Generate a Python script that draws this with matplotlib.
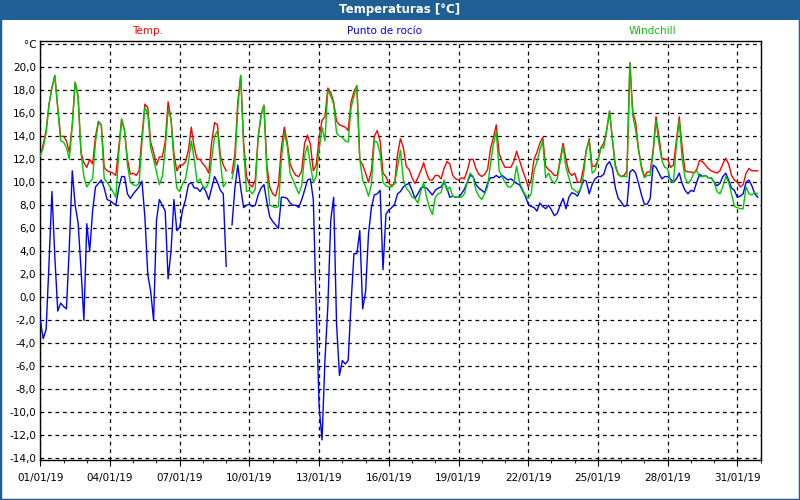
import numpy as np
import pandas as pd
import matplotlib
matplotlib.use('Agg')
import matplotlib.pyplot as plt
import matplotlib.dates as mdates
from matplotlib.patches import Rectangle
from matplotlib.ticker import FixedLocator, FuncFormatter

#-------------------------------------------------------------
# readings every 3h, starting 01/01/19 00:00 (one row per day)
start_str = '2019-01-01 00:00'
step_str  = '3h'
nan = np.nan

temp_lst = [
	12.3, 13.3, 14.5, 16.8, 18.2, 19.3, 16.5, 14.0,
	14.0, 13.6, 12.6, 15.0, 18.7, 17.5, 12.6, 11.7,
	11.3, 12.0, 11.6, 14.0, 15.3, 15.0, 11.3, 11.0,
	10.9, 10.8, 10.6, 13.0, 15.5, 14.5, 12.0, 10.7,
	10.8, 10.6, 11.0, 14.0, 16.8, 16.5, 13.5, 12.6,
	11.5, 12.2, 12.2, 13.5, 17.0, 15.5, 12.5, 11.0,
	11.5, 11.5, 11.8, 12.8, 14.8, 13.0, 12.0, 12.0,
	11.6, 11.3, 10.8, 13.5, 15.2, 15.0, 12.3, 11.5,
	11.0,  nan, 10.8, 12.5, 17.0, 19.3, 13.5, 10.5,
	 9.8,  9.6, 10.2, 13.9, 15.8, 16.7, 11.5,  9.6,
	 9.0,  8.8,  9.8, 13.0, 14.8, 13.5, 11.6, 11.0,
	10.6, 10.5, 11.0, 13.4, 14.1, 13.3, 11.0, 11.5,
	13.9, 15.4, 15.7, 18.2, 17.8, 17.0, 15.3, 15.0,
	14.9, 14.8, 14.5, 17.0, 17.9, 18.4, 12.0, 11.5,
	10.8, 10.0, 11.0, 14.0, 14.5, 13.6, 10.8, 10.5,
	 9.9,  9.7,  9.9, 12.4, 13.8, 13.0, 11.4, 11.1,
	10.4,  9.9, 10.4, 11.0, 11.7, 10.8, 10.2, 10.2,
	10.6, 10.6, 10.3, 11.2, 11.8, 11.6, 10.6, 10.3,
	10.2, 10.4, 10.3, 11.0, 12.0, 12.0, 11.2, 10.7,
	10.5, 10.7, 11.1, 12.9, 13.9, 15.0, 12.5, 11.8,
	11.3, 11.3, 11.3, 11.8, 12.7, 11.9, 11.1, 10.4,
	 9.6, 10.2, 12.0, 12.6, 13.4, 13.9, 11.4, 11.1,
	10.9, 10.6, 10.6, 12.0, 13.4, 12.0, 10.9, 10.6,
	10.8, 10.0, 10.0, 11.2, 12.8, 13.8, 11.4, 11.4,
	11.9, 13.0, 13.4, 14.5, 16.2, 13.7, 11.5, 10.7,
	10.5, 10.6, 11.0, 20.4, 16.1, 15.2, 12.8, 11.4,
	10.5, 10.9, 10.9, 12.8, 15.7, 14.0, 12.1, 12.0,
	12.0, 11.3, 11.5, 13.6, 15.7, 13.0, 11.0, 10.9,
	10.9, 10.8, 11.1, 11.9, 11.8, 11.5, 11.2, 11.0,
	10.9, 10.8, 11.0, 11.6, 12.1, 11.6, 10.6, 10.2,
	10.0,  9.6,  9.8, 10.8, 11.2, 11.0, 11.0, 11.0]

dew_lst = [
	 -2.0, -3.6, -2.8,  3.0,  9.2,  3.5, -1.2, -0.5,
	 -0.8, -1.0,  4.5, 11.0,  8.0,  6.5,  2.5, -2.0,
	  6.4,  4.0,  7.5,  9.6,  9.9, 10.2,  9.5,  8.5,
	  8.4,  8.2,  8.0,  9.5, 10.5, 10.5,  9.0,  8.6,
	  9.0,  9.3,  9.6, 10.1,  7.0,  2.0,  0.5, -2.0,
	  6.7,  8.5,  8.0,  7.5,  1.6,  4.0,  8.5,  5.8,
	  6.1,  7.6,  8.5,  9.8, 10.0,  9.5,  9.5,  9.2,
	  9.6,  9.2,  8.5,  9.5, 10.5, 10.0,  9.3,  9.0,
	  2.7,   nan, 6.3,  9.5, 11.5,  9.5,  7.8,  8.0,
	  8.1,  7.9,  8.0,  8.9,  9.5,  9.8,  8.3,  7.0,
	  6.6,  6.3,  6.0,  8.7,  8.7,  8.6,  8.2,  8.0,
	  8.0,  7.8,  8.5,  9.3, 10.2, 10.3,  8.5, -1.0,
	 -9.5,-12.4, -5.5, -0.8,  6.7,  8.7, -2.3, -6.8,
	 -5.5, -5.8, -5.5, -0.5,  3.8,  3.8,  5.8, -1.0,
	  0.5,  5.5,  7.8,  8.9,  9.0,  9.3,  2.4,  7.2,
	  7.6,  7.8,  8.1,  9.0,  9.2,  9.6,  9.8,  9.9,
	  9.3,  8.6,  9.0,  9.5,  9.6,  9.5,  9.2,  8.9,
	  9.3,  9.5,  9.6, 10.0,  9.5,  8.7,  8.8,  8.7,
	  8.7,  9.0,  9.4, 10.0, 10.6, 10.5,  9.8,  9.5,
	  9.3,  9.1,  9.9, 10.4, 10.4, 10.6, 10.4, 10.6,
	 10.4, 10.2, 10.3, 10.1,  9.9,  9.8,  9.3,  8.8,
	  8.1,  7.9,  7.8,  7.5,  8.2,  7.9,  7.7,  8.0,
	  7.6,  7.1,  7.3,  8.0,  8.6,  7.7,  8.7,  9.1,
	  9.0,  8.8,  9.4, 10.2, 10.1,  9.0,  9.8, 10.3,
	 10.5, 10.5, 10.7, 11.5, 11.8, 11.2,  9.5,  8.6,
	  8.3,  7.9,  8.0, 10.9, 11.1, 10.8,  9.9,  8.9,
	  8.1,  8.1,  8.6, 11.5, 11.3, 10.8, 10.3, 10.5,
	 10.5, 10.3, 10.0, 10.3, 10.8,  9.9,  9.3,  9.0,
	  9.3,  9.2, 10.0, 10.7, 10.5, 10.6, 10.4, 10.4,
	 10.0,  9.7,  9.9, 10.5, 10.8, 10.2,  9.5,  9.3,
	  8.7,  8.8,  9.0, 10.0, 10.2,  9.7,  9.0,  8.7]

chill_lst = [
	12.3, 13.0, 14.3, 16.8, 18.2, 19.3, 16.5, 13.6,
	13.5, 13.0, 12.0, 15.0, 18.7, 17.5, 12.6, 10.5,
	 9.6, 10.0, 10.3, 13.5, 15.2, 15.0, 10.3, 10.0,
	 9.6,  9.2,  8.7, 12.5, 15.5, 14.5, 11.5, 10.0,
	 9.8,  9.7,  9.9, 13.5, 16.5, 16.0, 13.0, 12.0,
	10.9,  9.8, 10.5, 12.8, 16.3, 15.5, 11.8,  9.5,
	 9.2,  9.9, 10.3, 11.8, 13.6, 12.0, 10.0, 10.3,
	 9.6,  9.5, 10.0, 12.0, 14.0, 14.5, 11.8,  9.6,
	10.0,  nan, 10.3, 11.5, 16.5, 19.3, 13.0,  9.2,
	 9.3,  9.0,  9.4, 13.9, 15.8, 16.7, 11.0,  8.0,
	 7.9,  7.8,  7.9, 12.0, 14.3, 13.2, 10.8, 10.2,
	 9.6,  9.0,  9.7, 12.3, 13.2, 11.5, 10.0, 10.5,
	12.8, 14.8, 13.6, 18.0, 17.5, 16.8, 14.3, 14.0,
	13.9, 13.6, 13.5, 16.5, 17.5, 18.4, 12.0, 10.2,
	 9.6,  8.8,  9.8, 13.6, 13.5, 12.5, 10.0,  9.7,
	 9.6,  9.6,  9.9, 11.3, 12.8, 10.2,  9.5,  9.2,
	 8.7,  8.6,  8.2,  9.2, 10.0,  8.7,  7.8,  7.2,
	 8.7,  9.0,  9.1, 10.2,  9.3,  9.6,  8.8,  8.7,
	 8.7,  8.7,  9.0, 10.0, 10.8, 10.5,  9.3,  8.8,
	 8.5,  9.0,  9.6, 11.6, 13.3, 14.4, 11.0, 10.5,
	10.0,  9.6,  9.6,  9.9, 11.4, 10.0,  9.4,  8.9,
	 8.6,  9.0, 11.0, 11.8, 12.8, 13.6, 10.4, 10.8,
	10.2,  9.9, 10.3, 11.8, 13.1, 11.3, 10.4,  9.5,
	 9.3,  9.1,  9.4, 10.6, 12.8, 13.6, 10.8, 11.0,
	11.9, 13.0, 13.0, 14.5, 16.2, 13.7, 11.3, 10.7,
	10.5, 10.5, 10.5, 20.4, 15.8, 14.5, 12.8, 11.2,
	10.4, 10.6, 10.6, 12.5, 15.4, 13.4, 11.9, 11.3,
	11.2, 10.1, 10.0, 13.2, 15.4, 12.0, 10.4,  9.9,
	10.2, 10.8, 11.0, 10.5, 10.5, 10.6, 10.4, 10.4,
	10.0,  9.2,  9.0,  9.6, 10.5, 10.0,  9.0,  7.9,
	 7.8,  7.7,  7.7,  9.6,  9.0,  8.9,  9.1,  9.0]

series_names_lst = ['Temp.', 'Punto de rocío', 'Windchill']
series_colors_lst = ['#ff0000', '#0000ff', '#00c800']
y_ticks_lst = list(range(-14, 23, 2))
x_ticks_lst = pd.date_range('2019-01-01', '2019-01-31', freq='3D')
title_str = 'Temperaturas [°C]'

#-------------------------------------------------------------
band_color = '#1f5f96'

fig = plt.figure(figsize=(8, 5), dpi=100)
fig.patch.set_facecolor('white')

# title band + window border
fig.patches.append(Rectangle((0, 0.96), 1, 0.04, transform=fig.transFigure,
	facecolor=band_color, edgecolor='none', zorder=0))
fig.patches.append(Rectangle((0, 0), 1, 1, transform=fig.transFigure,
	fill=False, edgecolor=band_color, linewidth=2.5, zorder=5))
fig.text(0.5, 0.98, title_str, color='white', fontsize=8.5, fontweight='bold',
	ha='center', va='center')

# series names across the top
for name_str, col, x in zip(series_names_lst, series_colors_lst, [0.184, 0.481, 0.815]):
	fig.text(x, 0.937, name_str, color=col, fontsize=7.5, ha='center', va='center')

ax = fig.add_axes([0.0504, 0.08, 0.9003, 0.838])

times = pd.date_range(start_str, periods=len(temp_lst), freq=step_str)
ax.plot(times, temp_lst,  color=series_colors_lst[0], lw=1.0, zorder=3)
ax.plot(times, dew_lst,   color=series_colors_lst[1], lw=1.0, zorder=3)
ax.plot(times, chill_lst, color=series_colors_lst[2], lw=1.0, zorder=4)

ax.set_xlim(pd.Timestamp('2019-01-01'), pd.Timestamp('2019-02-01'))
ax.set_ylim(-14.15, 22.29)

# y axis: comma decimals, top tick shows the unit
ax.yaxis.set_major_locator(FixedLocator(y_ticks_lst))
ax.yaxis.set_major_formatter(FuncFormatter(
	lambda v, p: '°C' if v > 21 else ('%.1f' % v).replace('.', ',')))
ax.tick_params(axis='y', length=0, pad=3, labelsize=7.5)

ax.set_xticks(x_ticks_lst)
ax.xaxis.set_minor_locator(mdates.DayLocator())
ax.xaxis.set_major_formatter(mdates.DateFormatter('%d/%m/%y'))
ax.tick_params(axis='x', which='major', direction='out', length=4, pad=5, labelsize=7.5)
ax.tick_params(axis='x', which='minor', direction='out', length=2.5)

ax.grid(True, which='major', color='black', linestyle=(0, (3, 3)), linewidth=0.9)
for sp in ax.spines.values():
	sp.set_linewidth(1.0)

fig.savefig('out.png', dpi=100)
